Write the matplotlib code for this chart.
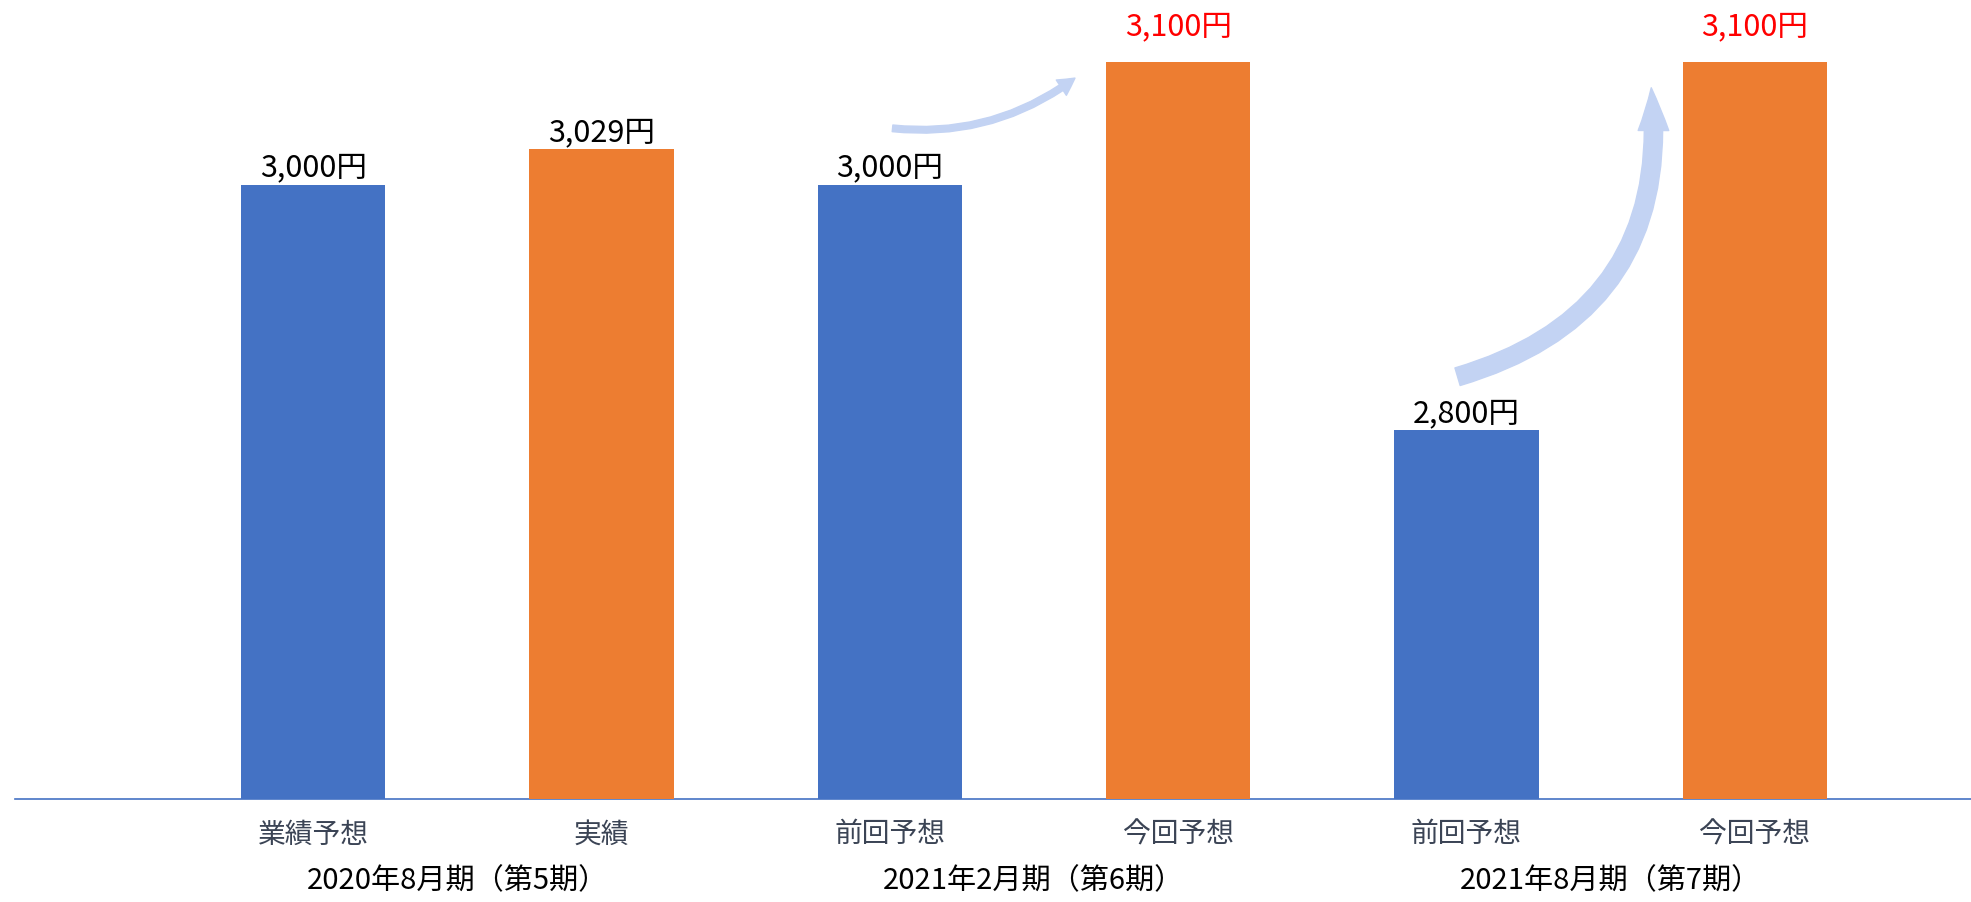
import numpy as np
import matplotlib
matplotlib.use('Agg')
import matplotlib.pyplot as plt
from matplotlib.patches import FancyArrowPatch

plt.rcParams['font.family'] = ['Noto Sans CJK JP', 'DejaVu Sans']

# data
categories = ['業績予想', '実績', '前回予想', '今回予想', '前回予想', '今回予想']
values = [3000, 3029, 3000, 3100, 2800, 3100]
groups = ['2020年8月期（第5期）', '2021年2月期（第6期）', '2021年8月期（第7期）']
value_labels = ['3,000円', '3,029円', '3,000円', '3,100円', '2,800円', '3,100円']
highlight = [False, False, False, True, False, True]

blue = '#4472C4'
orange = '#ED7D31'
bar_colors = [blue, orange, blue, orange, blue, orange]

y_base = 2500

fig = plt.figure(figsize=(19.71, 9.03), dpi=100)
ax = fig.add_axes([15 / 1971, 103 / 903, 1 - 15 / 1971, 800 / 903])

x = np.arange(len(values))
bars = ax.bar(x, np.array(values) - y_base, bottom=y_base, width=0.5,
              color=bar_colors, zorder=3)

ax.set_xlim(-1.034, 5.75)
ax.set_ylim(y_base, y_base + 651)

for spine in ['top', 'right', 'left']:
    ax.spines[spine].set_visible(False)
ax.spines['bottom'].set_color(blue)
ax.spines['bottom'].set_linewidth(1.2)
ax.spines['bottom'].set_zorder(2)
ax.set_yticks([])

ax.set_xticks(x)
ax.set_xticklabels(categories, fontsize=20, color='#3B4455')
ax.tick_params(axis='x', length=0, pad=14)

# value labels
for xi, v, lab, hl in zip(x, values, value_labels, highlight):
    ax.annotate(lab, (xi, v), xytext=(0, 15 if hl else 1.5),
                textcoords='offset points', ha='center', va='bottom',
                fontsize=22, color='red' if hl else 'black')

# period labels under each pair
for i, g in enumerate(groups):
    ax.text(x[2 * i] + 0.5, -0.101, g, transform=ax.get_xaxis_transform(),
            ha='center', va='center', fontsize=21, color='black')

# curved arrows
arrow_col = '#C3D3F3'
a1 = FancyArrowPatch((x[2] + 0.0, 3046), (x[3] - 0.35, 3088),
                     connectionstyle='arc3,rad=0.2',
                     arrowstyle='simple,head_width=1.1,head_length=1.0,tail_width=0.4',
                     mutation_scale=12, color=arrow_col, zorder=4)
ax.add_patch(a1)
a2 = FancyArrowPatch((x[4] - 0.04, 2843), (x[5] - 0.36, 3081),
                     connectionstyle='arc3,rad=0.42',
                     arrowstyle='simple,head_width=1.0,head_length=1.4,tail_width=0.6',
                     mutation_scale=22, color=arrow_col, zorder=4)
ax.add_patch(a2)

fig.savefig('out.png', dpi=100)
